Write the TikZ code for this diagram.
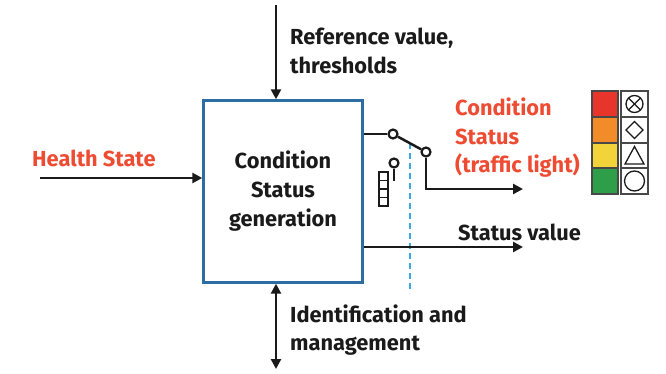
\documentclass[tikz,border=0pt]{standalone}
\usepackage{fontspec}
\setmainfont{Fira Sans}
\usetikzlibrary{arrows.meta,calc}
\definecolor{boxblue}{HTML}{2C6EA3}
\definecolor{txtred}{HTML}{EE4B33}
\definecolor{dashblue}{HTML}{3BA9DF}
\definecolor{tlred}{HTML}{E8352B}
\definecolor{tlorange}{HTML}{F28C28}
\definecolor{tlyellow}{HTML}{F2D43A}
\definecolor{tlgreen}{HTML}{2E9E48}
\definecolor{ink}{HTML}{1A1A1A}
\begin{document}
\begin{tikzpicture}[x=1pt,y=-1pt,
  lbl/.style={font=\bfseries\fontsize{21.8}{28.5}\selectfont, align=left, anchor=west, inner sep=0pt, text=ink},
  redlbl/.style={lbl, text=txtred},
  wire/.style={draw=ink, line width=2.5pt},
  arr/.style={wire, -{Triangle[length=10pt,width=10pt]}},
  darr/.style={wire, {Triangle[length=10pt,width=10pt]}-{Triangle[length=10pt,width=10pt]}},
  swc/.style={circle, draw=ink, fill=white, line width=2.2pt, minimum size=9pt, inner sep=0pt},
  cell/.style={draw=ink!80, line width=1.1pt},
  sym/.style={draw=ink, line width=1.3pt}
]
\useasboundingbox (0,0) rectangle (666,374);

% main box
\node[draw=boxblue, line width=2.4pt, minimum width=159pt, minimum height=182pt,
      align=center, font=\bfseries\fontsize{21.8}{29}\selectfont, text=ink] (box) at (283,191.5)
      {Condition\\Status\\generation};

% top input
\coordinate (topin) at (276,5);
\draw[arr] (topin) -- (topin |- box.north);
\node[lbl] (reflbl) at (290,51) {Reference value,\\thresholds};

% bottom double arrow
\coordinate (botout) at (276,369);
\draw[darr] (botout |- box.south) -- (botout);
\node[lbl] (idlbl) at (290,330) {Identification and\\management};

% health state input
\coordinate (hsin) at (40,178);
\draw[arr] (hsin) -- (hsin -| box.west);
\node[redlbl] (hslbl) at (32,158) {Health State};

% dashed line
\coordinate (d1) at (410,143);
\coordinate (d2) at (410,293);
\draw[draw=dashblue, line width=1.8pt, dash pattern=on 6pt off 4pt] (d1) -- (d2);

% switch
\node[swc] (s1) at (393,134) {};
\node[swc] (s2) at (426,152) {};
\draw[wire] (box.east |- s1) -- (s1);
\draw[wire] (s1) -- (s2);
\coordinate (tlcorner) at (426,189);
\coordinate (tlend) at (523,189);
\draw[arr] (s2) -- (tlcorner) -- (tlend);

% pin
\node[swc] (pin) at (394,163) {};
\coordinate (pinb) at (394,181);
\draw[wire] (pin) -- (pinb);

% small stack
\foreach \i in {0,1,2,3}{
  \draw[draw=ink, line width=1.1pt] (379,{172+8.5*\i}) rectangle (388,{180.5+8.5*\i});
}

% status value
\coordinate (svend) at (523,247);
\draw[arr] (box.east |- svend) -- (svend);
\node[lbl] (svlbl) at (458,232) {Status value};

% condition status label
\node[redlbl] (cslbl) at (455,138) {Condition\\Status\\(traffic light)};

% traffic light
\draw[cell, fill=tlred]    (592,91)  rectangle (618,117);
\draw[cell, fill=tlorange] (592,117) rectangle (618,143);
\draw[cell, fill=tlyellow] (592,143) rectangle (618,168);
\draw[cell, fill=tlgreen]  (592,168) rectangle (618,194);
\draw[cell, fill=white] (621,91)  rectangle (648,117);
\draw[cell, fill=white] (621,117) rectangle (648,143);
\draw[cell, fill=white] (621,143) rectangle (648,168);
\draw[cell, fill=white] (621,168) rectangle (648,194);
% symbols
\draw[sym] (634.5,104) circle (8.5pt);
\draw[sym] ($(634.5,104)+(-6,-6)$) -- ($(634.5,104)+(6,6)$);
\draw[sym] ($(634.5,104)+(-6,6)$) -- ($(634.5,104)+(6,-6)$);
\draw[sym] (634.5,121.5) -- (643,130) -- (634.5,138.5) -- (626,130) -- cycle;
\draw[sym] (634.5,146.5) -- (644,164) -- (625,164) -- cycle;
\draw[sym] (634.5,181) circle (10pt);
\end{tikzpicture}
\end{document}
